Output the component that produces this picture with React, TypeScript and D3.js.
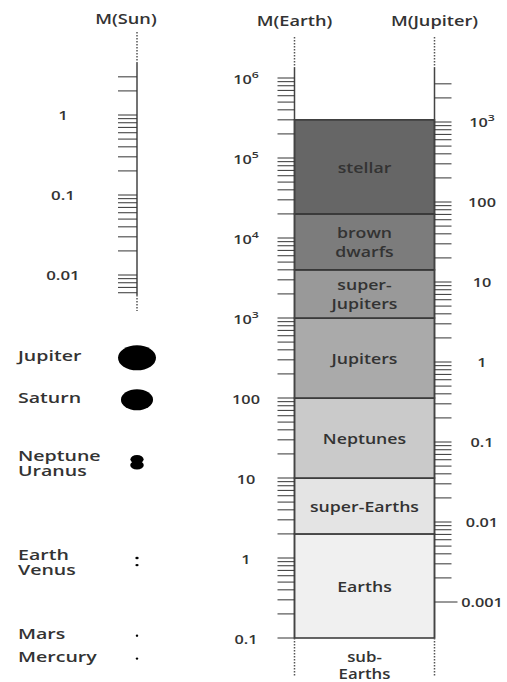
import React from 'react';
import * as d3 from 'd3';

// mass classes, bounds in Earth masses
const classNames = ['Earths', 'super-Earths', 'Neptunes', 'Jupiters', 'super-Jupiters', 'brown dwarfs', 'stellar'];
const classLines = [['Earths'], ['super-Earths'], ['Neptunes'], ['Jupiters'], ['super-', 'Jupiters'], ['brown', 'dwarfs'], ['stellar']];
const classLower = [0.1, 2, 10, 100, 1000, 4000, 20000];
const classUpper = [2, 10, 100, 1000, 4000, 20000, 300000];
const belowLines = ['sub-', 'Earths'];

// solar system planets
const planetNames = ['Jupiter', 'Saturn', 'Neptune', 'Uranus', 'Earth', 'Venus', 'Mars', 'Mercury'];
const planetMass = [317.8, 95.2, 17.1, 14.5, 1, 0.815, 0.107, 0.0553]; // Earth masses
const planetRadius = [11.2, 9.45, 3.88, 4.0, 1, 0.95, 0.53, 0.38]; // Earth radii
const planetGroups = [['Jupiter'], ['Saturn'], ['Neptune', 'Uranus'], ['Earth', 'Venus'], ['Mars'], ['Mercury']];

// tick labels
const sunLabels = [1, 0.1, 0.01];
const earthLabels = [1e6, 1e5, 1e4, 1e3, 100, 10, 1, 0.1];
const jupiterLabels = [1000, 100, 10, 1, 0.1, 0.01, 0.001];

const shades = ['#f0f0f0', '#e4e4e4', '#cacaca', '#aaaaaa', '#999999', '#7c7c7c', '#666666'];

const W = 507;
const H = 682;
const sunX = 137;
const earthX = 294.5;
const jupX = 434.5;
const textColor = '#333';
const font = '"Open Sans", "DejaVu Sans", sans-serif';

const yE = d3.scaleLog().domain([0.1, 1e6]).range([638, 78]);
const yS = d3.scaleLog().domain([0.01, 1]).range([275, 115]);
const yJ = d3.scaleLog().domain([0.001, 1000]).range([602, 122]);

const sunTicks = d3.scaleLog().domain([0.006, 3]).ticks();
const earthTicks = d3.scaleLog().domain([0.1, 1e6]).ticks();
const jupTicks = d3.scaleLog().domain([0.001, 3000]).ticks();

const color = d3.scaleOrdinal<string, string>().domain(classNames).range(shades);
const rx = d3.scaleLinear().domain([0, 11.2]).range([0, 19]);

const Label = ({ x, y, sx, size, anchor = 'middle', children }: any) => (
  <text
    transform={`translate(${x},${y}) scale(${sx},1)`}
    fontSize={size}
    fontFamily={font}
    fontWeight={600}
    fill={textColor}
    textAnchor={anchor}
    dominantBaseline="central"
  >
    {children}
  </text>
);

const fmt = (v: number) =>
  v >= 1000 ? (
    <>
      10<tspan dy={-5} fontSize={9.5}>{Math.round(Math.log10(v))}</tspan>
    </>
  ) : (
    d3.format('~g')(v)
  );

const Dotted = ({ x, y1, y2 }: any) => (
  <line x1={x} x2={x} y1={y1} y2={y2} stroke="#555" strokeWidth={1.5} strokeDasharray="1.5,1.5" />
);

export default function App() {
  const idx = (n: string) => planetNames.indexOf(n);
  return (
    <svg width={W} height={H} style={{ position: 'absolute', left: 0, top: 0, background: '#fff' }}>
      {/* headers */}
      <Label x={sunX - 11} y={19} sx={1.3} size={14}>M(Sun)</Label>
      <Label x={earthX} y={21} sx={1.3} size={14}>M(Earth)</Label>
      <Label x={jupX} y={21} sx={1.3} size={14}>M(Jupiter)</Label>

      {/* class boxes */}
      {classNames.map((c, i) => {
        const top = yE(classUpper[i]);
        const bot = yE(classLower[i]);
        const mid = yE(Math.sqrt(classUpper[i] * classLower[i]));
        const lines = classLines[i];
        return (
          <g key={c}>
            <rect x={earthX} y={top} width={jupX - earthX} height={bot - top} fill={color(c)} stroke="#333" strokeWidth={1.5} />
            {lines.map((t, j) => (
              <Label key={t} x={(earthX + jupX) / 2} y={mid + (j - (lines.length - 1) / 2) * 19} sx={1.18} size={15}>
                {t}
              </Label>
            ))}
          </g>
        );
      })}
      {belowLines.map((t, j) => (
        <Label key={t} x={(earthX + jupX) / 2} y={yE(0.1) + 19 + j * 17} sx={1.2} size={14}>
          {t}
        </Label>
      ))}

      {/* Sun axis */}
      <Dotted x={sunX} y1={32} y2={63} />
      <line x1={sunX} x2={sunX} y1={63} y2={295} stroke="#444" strokeWidth={1.5} />
      <Dotted x={sunX} y1={295} y2={311} />
      {sunTicks.map((t) => (
        <line key={t} x1={sunX - 19} x2={sunX} y1={yS(t)} y2={yS(t)} stroke="#333" strokeWidth={1} />
      ))}
      {sunLabels.map((t) => (
        <Label key={t} x={63} y={yS(t)} sx={1.35} size={12.5}>{fmt(t)}</Label>
      ))}

      {/* Earth axis */}
      <Dotted x={earthX} y1={37} y2={68} />
      <line x1={earthX} x2={earthX} y1={68} y2={638} stroke="#444" strokeWidth={1.5} />
      <Dotted x={earthX} y1={638} y2={676} />
      {earthTicks.map((t) => (
        <line key={t} x1={earthX - 17} x2={earthX} y1={yE(t)} y2={yE(t)} stroke="#333" strokeWidth={1} />
      ))}
      {earthLabels.map((t) => (
        <Label key={t} x={246} y={yE(t) + 1} sx={1.3} size={12.5}>{fmt(t)}</Label>
      ))}

      {/* Jupiter axis */}
      <Dotted x={jupX} y1={37} y2={68} />
      <line x1={jupX} x2={jupX} y1={68} y2={638} stroke="#444" strokeWidth={1.5} />
      <Dotted x={jupX} y1={638} y2={676} />
      {jupTicks.map((t) => (
        <line key={t} x1={jupX} x2={jupX + (t === 0.001 ? 23 : 17)} y1={yJ(t)} y2={yJ(t)} stroke="#333" strokeWidth={1} />
      ))}
      {jupiterLabels.map((t) => (
        <Label key={t} x={482} y={yJ(t)} sx={1.3} size={12.5}>{fmt(t)}</Label>
      ))}

      {/* planets */}
      {planetNames.map((p, i) => {
        const r = Math.max(rx(planetRadius[i]), 1.2);
        return <ellipse key={p} cx={sunX} cy={yE(planetMass[i])} rx={r} ry={Math.max(r * 0.66, 1.2)} fill="#000" />;
      })}
      {planetGroups.map((g) => {
        const c = d3.mean(g, (n) => yE(planetMass[idx(n)])) as number;
        const shift = g.length > 1 ? 1 : -2;
        return g.map((n, j) => (
          <Label key={n} x={18} y={c + shift + (j - (g.length - 1) / 2) * 15} sx={1.45} size={13.5} anchor="start">
            {n}
          </Label>
        ));
      })}
    </svg>
  );
}
